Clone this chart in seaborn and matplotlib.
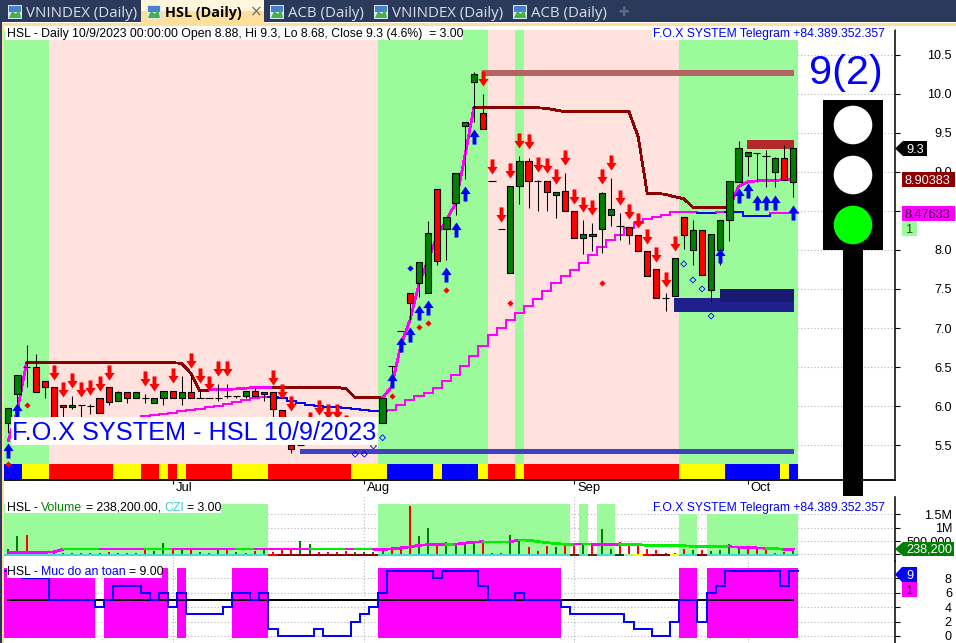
import numpy as np
import pandas as pd
import matplotlib
matplotlib.use("Agg")
import matplotlib.pyplot as plt
import seaborn as sns
from matplotlib.patches import Rectangle, Circle, Polygon
from matplotlib.path import Path
from matplotlib.transforms import ScaledTranslation

# ---------- data ----------
opens = [5.79,6.15,6.50,6.50,6.325,6.24,6.02,5.99,6.02,6.00,6.10,6.24,6.06,6.18,6.10,6.10,6.035,6.10,6.19,6.10,
         6.18,6.11,6.10,6.11,6.13,6.13,6.13,6.19,6.155,6.18,5.945,5.50,5.50,5.62,5.60,5.62,5.66,5.64,5.70,5.72,
         5.74,5.78,6.51,6.965,7.443,7.57,7.443,8.775,8.263,8.596,9.59,10.145,9.748,8.877,8.263,7.70,8.813,9.134,8.877,8.877,
         8.70,8.75,8.493,8.148,8.199,8.263,8.442,8.306,8.297,8.186,7.98,7.75,7.38,7.414,8.417,7.994,8.25,7.49,7.994,8.378,
         8.873,9.198,9.24,9.206,8.993,9.172,8.873]
closes = [5.98,6.40,6.50,6.185,6.24,5.69,5.99,6.02,6.02,6.00,5.91,6.05,6.18,6.10,6.18,6.10,6.10,6.19,6.10,6.18,
          6.11,6.11,6.10,6.11,6.13,6.13,6.19,6.13,6.18,5.96,5.84,5.45,5.50,5.62,5.60,5.62,5.66,5.64,5.70,5.72,
          5.74,6.10,6.51,6.965,7.324,7.84,8.21,7.86,8.416,8.99,9.633,10.247,9.543,8.877,8.263,8.813,9.134,8.877,8.877,8.737,
          8.737,8.493,8.148,8.199,8.173,8.724,8.53,8.306,8.186,7.98,7.66,7.38,7.38,7.892,8.195,8.25,7.683,8.199,8.38,8.878,
          9.30,9.249,9.24,9.206,9.172,8.89,9.30]
highs = [5.98,6.40,6.78,6.67,6.325,6.24,6.02,6.13,6.02,6.03,6.10,6.24,6.19,6.18,6.18,6.155,6.10,6.19,6.19,6.385,
         6.41,6.21,6.10,6.28,6.28,6.13,6.19,6.24,6.18,6.18,5.945,5.50,5.50,5.62,5.60,5.62,5.66,5.64,5.70,5.72,
         5.74,6.10,6.51,6.965,7.443,7.84,8.365,8.775,8.416,8.99,9.633,10.28,9.996,8.877,8.263,8.813,9.2,9.172,8.89,8.877,
         8.737,8.98,8.493,8.38,8.34,8.74,8.92,8.47,8.297,8.186,7.98,7.75,7.443,7.892,8.417,8.38,8.25,8.199,8.38,8.878,
         9.394,9.249,9.245,9.279,9.185,9.343,9.30]
lows = [5.65,6.05,6.25,6.185,6.11,5.69,5.865,5.96,5.865,5.90,5.91,6.02,6.06,6.04,6.10,6.035,6.035,6.015,6.10,6.02,
        6.11,6.10,6.10,6.065,6.11,6.11,6.10,6.13,6.06,5.84,5.75,5.405,5.50,5.62,5.60,5.62,5.66,5.64,5.70,5.72,
        5.74,5.78,6.42,6.965,7.10,7.40,7.443,7.81,7.87,8.446,8.91,9.64,9.543,8.877,8.263,7.70,8.587,8.54,8.50,8.50,
        8.41,8.493,8.148,7.95,7.99,7.96,8.30,8.126,8.075,7.98,7.66,7.38,7.22,7.414,8.016,7.806,7.683,7.345,7.806,8.118,
        8.873,8.95,8.87,8.81,8.81,8.89,8.673]

trail = ([5.557,5.95]+[6.556]*17+[6.547,6.42,6.193]+[6.206,6.21,6.215,6.22,6.23,6.238,6.24]+[6.24]*8+[6.223]+[6.107]*4
         +[6.25,6.78,7.10,7.57,7.87,8.19,8.38,8.596,9.19,9.82]+[9.82]*7+[9.812,9.79]+[9.77]*8
         +[9.449,8.724,8.724,8.711,8.68,8.656]+[8.545]*5+[8.81,8.873,8.883,8.89,8.89,8.90,8.90])
trail_col = "mm"+"r"*20+"m"*7+"r"*12+"m"*10+"r"*28+"m"*8
slow_idx = list(range(15,87))
slow = [5.873,5.88,5.90,5.916,5.933,5.95,5.967,5.984,6.0,6.027,6.05,6.078,6.10,6.116,6.116,6.11,6.07,6.044,6.018,6.005,5.99,5.984,5.97,5.958,5.95,5.94,5.937,
        5.95,6.014,6.08,6.13,6.168,6.232,6.32,6.40,6.513,6.64,6.77,6.91,6.995,7.10,7.187,7.28,7.366,7.48,7.58,7.665,7.742,7.836,7.934,8.04,8.126,8.19,8.276,8.34,
        8.39,8.425,8.447,8.49,8.49,8.49,8.477,8.477,8.49,8.49,8.487,8.434,8.434,8.434,8.477,8.477,8.477]
slow_col = "m"*14+"b"*13+"m"*34+"b"*2+"m"+"b"*5+"m"*3

bull_idx = [0,1,42,43,44,45,46,48,49,50,51,78,80,81,82,83,84,86]
bull_tip = [5.53,6.04,6.42,6.89,7.008,7.30,7.358,7.776,8.352,8.818,9.543,8.02,8.788,8.852,8.703,8.703,8.703,8.575]
bear_idx = [5,6,7,8,9,10,11,15,16,18,20,21,22,23,24,29,30,31,33,34,35,36,37,52,53,54,55,56,57,58,59,60,61,62,63,64,65,66,67,68,69,70,71,72,73]
bear_tip = [6.334,6.112,6.236,6.12,6.142,6.193,6.334,6.261,6.193,6.291,6.492,6.291,6.193,6.39,6.39,6.27,6.086,5.937,5.736,5.886,5.83,5.83,5.69,
            10.098,8.971,8.361,8.924,9.308,9.287,9.0,8.98,8.843,9.09,8.587,8.489,8.446,8.843,9.023,8.574,8.395,8.284,8.075,7.849,7.529,7.99]
red_dia_idx = [0,2,42,45,46,48,55,65]
red_dia_val = [5.26,6.02,6.13,7.017,7.07,7.486,7.324,7.58]
blue_dia_idx = [44]
blue_dia_val = [7.77]
open_dia_idx = [38,39,40,41,74,75,76,77]
open_dia_val = [5.385,5.385,5.49,5.595,7.82,7.614,7.50,7.153]

band_edges = [-0.5,4.5,40.5,52.5,55.5,56.5,73.5,86.5]
band_kinds = "gpgpgpg"
strip_edges = [-0.5,1.5,4.5,11.5,14.5,16.5,17.5,18.5,19.5,24.5,28.5,37.5,41.5,46.5,47.5,51.5,52.5,55.5,56.5,73.5,78.5,84.5,85.5,86.5]
strip_kinds = ["b","y","r","y","r","y","r","y","r","y","r","y","b","y","b","y","r","y","r","y","b","y","b"]

rect_x0 = [51.9,80.9,72.9,78.0,31.95]
rect_x1 = [86.1,86.1,86.1,86.1,86.1]
rect_lo = [10.23,9.29,7.20,7.33,5.385]
rect_hi = [10.30,9.41,7.39,7.50,5.45]
rect_col = ["#B46464","#B22A2A","#20208C","#191970","#4040C0"]

volume = [.20,.69,.72,.10,.08,.10,.05,.05,.04,.06,.04,.10,.05,.04,.05,.15,.12,.42,.20,.20,
          .16,.08,.05,.22,.19,.08,.05,.12,.20,.08,.16,.20,.50,.40,.10,.08,.10,.12,.08,.08,
          .10,.20,.28,.20,1.81,.69,.97,.35,.47,.44,.44,.50,.44,.05,.05,.72,.51,.28,.12,.31,
          .28,.39,.42,.35,.40,.95,.20,.46,.35,.38,.20,.16,.04,.04,.20,.16,.16,.12,.16,.38,
          .29,.28,.20,.16,.04,.10,.23]
vol_col = "ggrrrrrgrr"+"rrgrgrggrg"+"rgggrggrgr"+"rrggrrrrgg"+"ggrrrggrgg"+"ggrggggrrr"+"grrgrggrrr"+"rrggrgrggg"+"grrrgrg"
vol_ma = ([.08]*5+[.09]+[.19]*36+[.20,.24,.28,.34,.36,.37,.37,.38,.42,.46,.47,.47,.47,.47,.54,.53,.48,.44,.40]
          +[.38,.37,.37,.37,.37,.36,.36,.37,.36,.34,.33,.33,.33,.32,.30,.29,.29,.28,.28,.27,.26,.24,.23,.21,.19,.18])
vol_ma_col = "mmmmmm"+"gggg"+"mmmmm"+"ggg"+"mmmmmmm"+"gg"+"mmmmmm"+"gggg"+"m"+"gg"+"mmmmmmmm"+"g"+"mmm"+"ggg"+"m"+"gggggg"+"m"+"g"+"mmm"+"g"*12+"mmmm"+"gg"+"m"+"g"
vband_edges = [-0.5,28.5,40.5,61.5,62.5,63.5,64.5,66.5,73.5,75.5,76.5,86.5]
vband_on = [1,0,1,0,1,0,1,0,1,0,1]
vstrip_edges = [-0.5,28.5,29.5,40.5,61.5,62.5,63.5,64.5,66.5,67.5,68.5,69.5,70.5,72.5,73.5,75.5,76.5,86.5]
vstrip_col = ["#40E0D0","#FF0000","#8B0000","#40E0D0","#5A2A00","#40E0D0","#5A2A00","#40E0D0","#005000","#98FB98","#FFFF00","#FF0000","#8B0000","#FFFF00","#40E0D0","#8B0000","#40E0D0"]

safety = [9,9,8,8,8,5,5,5,5,5,4,5,7,7,7,6,5,6,4,6,3,3,3,3,4,6,6,5,6,1,0,0,0,0,1,0,0,0,2,3,4,6,9,9,9,9,9,8,9,9,9,9,7,5,5,5,6,5,5,5,5,4,
          3,3,3,3,3,3,2,1,1,0,0,2,5,5,2,6,7,9,9,9,9,9,9,7,9]
safety_mid = [5]*87
sband_edges = [-0.5,9.5,10.5,17.5,18.5,19.5,24.5,28.5,40.5,60.5,73.5,75.5,76.5,86.5]
sband_on = [1,0,1,0,1,0,1,0,1,0,1,0,1]

price_ticks = [5.5,6.0,6.5,7.0,7.5,8.0,8.5,9.0,9.5,10.0,10.5]
price_lab = ["5.5","6.0","6.5","7.0","7.5","8.0","","9.0","9.5","10.0","10.5"]
date_idx = [18,39,62,81]
date_lab = ["Jul","Aug","Sep","Oct"]
vol_ticks = [0,.5,1,1.5]
vol_lab = ["","500,000","1M","1.5M"]
safe_ticks = [0,2,4,6,8]
tabs = [("VNINDEX (Daily)",26,8),("HSL (Daily)",165,147),("ACB (Daily)",288,270),("VNINDEX (Daily)",392,374),("ACB (Daily)",531,513)]

# ---------- geometry / style ----------
W, H = 956, 643
PXI = 9.128
X0 = (4-8.3)/PXI
X1 = (895-8.3)/PXI
PINK, GREEN, RED, DGREEN, MAG, DRED = "#FFE1DE", "#9BFB9B", "#FF0000", "#008000", "#FF00FF", "#8B0000"
LW = 1.3
TS = 8.8
sns.set_theme(style="white", rc={"axes.facecolor":"white","figure.facecolor":"white"})
FONT = "Liberation Sans"
plt.rcParams["font.family"] = [FONT, "DejaVu Sans"]
fig = plt.figure(figsize=(W/100, H/100), dpi=100)

def pane(top, bot):
    a = fig.add_axes([4/W, 1-bot/H, (895-4)/W, (bot-top)/H])
    a.set_xlim(X0, X1)
    for s in ["top","left"]:
        a.spines[s].set_visible(False)
    a.spines["right"].set_color("black"); a.spines["bottom"].set_color("black")
    a.spines["right"].set_linewidth(1.1); a.spines["bottom"].set_linewidth(1.3)
    a.yaxis.tick_right()
    a.tick_params(axis="y", length=3.6, width=0.8, color="black", labelsize=9.1, pad=37.4, labelcolor="black")
    a.set_axisbelow(True)
    a.grid(True, ls=(0,(1,2)), color="#B4B4B4", lw=0.8)
    return a

ax = pane(30, 480)
av = pane(497, 561)
ai = pane(561, 643)

COLS = {"r":DRED,"m":MAG,"b":"#0000FF","g":"#00EE00"}
def coloured(a, xs, ys, kinds, lw, z):
    xs, ys = np.asarray(xs,float), np.asarray(ys,float)
    s = 0
    while s < len(xs):
        e = s
        while e+1 < len(xs) and kinds[e+1] == kinds[s]:
            e += 1
        stop = min(e+2, len(xs))
        sns.lineplot(x=xs[s:stop], y=ys[s:stop], ax=a, color=COLS[kinds[s]], lw=lw, zorder=z,
                     estimator=None, sort=False, errorbar=None, legend=False, antialiased=False)
        s = e+1

def stairs(v, idx=None):
    idx = np.arange(len(v)) if idx is None else np.asarray(idx)
    xs = np.append(idx-0.5, idx[-1]+0.5)
    e = np.repeat(xs, 2)[1:-1]
    y = np.repeat(v, 2)
    return e, y

# ---------- main pane ----------
for k,(a,b) in zip(band_kinds, zip(band_edges[:-1], band_edges[1:])):
    ax.axvspan(a, b, ymin=0, ymax=1, color=GREEN if k=="g" else PINK, lw=0, zorder=1)
SK = {"b":"#0000FF","y":"#FFFF00","r":"#FF0000"}
for k,(a,b) in zip(strip_kinds, zip(strip_edges[:-1], strip_edges[1:])):
    ax.bar((a+b)/2, 0.192, width=b-a, bottom=5.067, color=SK[k], lw=0, zorder=2)
for x0,x1,lo,hi,c in zip(rect_x0,rect_x1,rect_lo,rect_hi,rect_col):
    ax.bar((x0+x1)/2, hi-lo, width=x1-x0, bottom=lo, color=c, lw=0, zorder=3)

sx, sy = stairs(slow, slow_idx)
kinds2 = np.repeat(list(slow_col), 2)
coloured(ax, sx, sy, kinds2, LW, 4)
coloured(ax, np.arange(87), trail, trail_col, LW, 4.1)

idx = np.arange(87)
df = pd.DataFrame({"i":idx,"o":opens,"c":closes,"h":highs,"l":lows})
ax.vlines(df.i, df.l, df.h, color="black", lw=0.75, zorder=5)
up = df[df.c>df.o]; dn = df[df.c<df.o]; dj = df[df.c==df.o]
ax.bar(up.i, up.c-up.o, bottom=up.o, width=0.68, color=DGREEN, edgecolor="black", lw=0.8, zorder=6)
ax.bar(dn.i, dn.o-dn.c, bottom=dn.c, width=0.68, color=RED, edgecolor="black", lw=0.8, zorder=6)
ax.hlines(dj.o, dj.i-0.4, dj.i+0.4, color="black", lw=0.8, zorder=6)

arrow_dn = Path([(0,0),(-.34,.5),(-.13,.5),(-.13,1),(.13,1),(.13,.5),(.34,.5),(0,0)], closed=True)
arrow_up = Path([(0,0),(-.34,-.5),(-.13,-.5),(-.13,-1),(.13,-1),(.13,-.5),(.34,-.5),(0,0)], closed=True)
sns.scatterplot(x=bear_idx, y=bear_tip, ax=ax, marker=arrow_dn, s=470, color=RED, linewidth=0, zorder=7, legend=False)
sns.scatterplot(x=bull_idx, y=bull_tip, ax=ax, marker=arrow_up, s=470, color="#0000FF", linewidth=0, zorder=7, legend=False)
sns.scatterplot(x=red_dia_idx, y=red_dia_val, ax=ax, marker="D", s=10, color=RED, linewidth=0, zorder=7, legend=False)
sns.scatterplot(x=blue_dia_idx, y=blue_dia_val, ax=ax, marker="D", s=10, color="#0000FF", linewidth=0, zorder=7, legend=False)
ax.scatter(open_dia_idx, open_dia_val, marker="D", s=9, facecolor="none", edgecolor="#0000FF", linewidth=0.6, zorder=7)
ax.set_xlim(X0, X1)
ax.set_ylim(7-(480-328)/78.1, 7+(328-30)/78.1)
ax.set_yticks(price_ticks)
ax.set_yticklabels(price_lab, ha="right")
ax.set_xticks(date_idx)
ax.set_xticklabels(date_lab, ha="left", fontsize=9.4, color="black")
ax.tick_params(axis="x", length=3, width=0.8, color="black", pad=-1.5, bottom=True)
offs = ScaledTranslation(3/100, 0, fig.dpi_scale_trans)
for t in ax.get_xticklabels():
    t.set_transform(t.get_transform()+offs)

# ---------- volume pane ----------
for on,(a,b) in zip(vband_on, zip(vband_edges[:-1], vband_edges[1:])):
    if on:
        av.bar((a+b)/2, 1.89+0.064, width=b-a, bottom=-0.064, color=GREEN, lw=0, zorder=1)
for c,(a,b) in zip(vstrip_col, zip(vstrip_edges[:-1], vstrip_edges[1:])):
    av.bar((a+b)/2, 0.094, width=b-a, bottom=-0.064, color=c, lw=0, zorder=2)
vdf = pd.DataFrame({"i":idx,"v":volume,"k":list(vol_col)})
for k,c in (("g",DGREEN),("r",RED)):
    d = vdf[vdf.k==k]
    av.vlines(d.i, 0, d.v, color=c, lw=1.2, zorder=3, antialiased=False)
coloured(av, idx, vol_ma, vol_ma_col, LW, 4)
av.set_xlim(X0, X1)
av.set_ylim((554.3-561)/26.6, (554.3-497)/26.6)
av.set_yticks(vol_ticks)
av.set_yticklabels(vol_lab, ha="right")
av.set_xticks(date_idx); av.set_xticklabels([]); av.tick_params(axis="x", length=0)
av.spines["bottom"].set_visible(False)

# ---------- safety pane ----------
for on,(a,b) in zip(sband_on, zip(sband_edges[:-1], sband_edges[1:])):
    if on:
        ai.bar((a+b)/2, 9.73, width=b-a, bottom=-0.24, color=MAG, lw=0, zorder=1)
sns.lineplot(x=idx, y=safety_mid, ax=ai, color="black", lw=LW, zorder=3, estimator=None, errorbar=None, legend=False, antialiased=False)
ex, ey = stairs(safety)
sns.lineplot(x=ex, y=ey, ax=ai, color="#0000FF", lw=LW, zorder=4, estimator=None, sort=False, errorbar=None, legend=False, antialiased=False)
ai.set_xlim(X0, X1)
ai.set_ylim((636-643)/7.2, (636-561)/7.2)
ai.set_yticks(safe_ticks)
ai.set_yticklabels([str(t) for t in safe_ticks], ha="right")
ai.set_xticks(date_idx); ai.set_xticklabels([]); ai.tick_params(axis="x", length=0)
ai.spines["bottom"].set_visible(False)
for a in (ax, av, ai):
    a.set_xlabel(""); a.set_ylabel("")

# ---------- overlay in pixel units: chrome, labels, traffic light ----------
ov = fig.add_axes([0,0,1,1], zorder=20)
ov.set_xlim(0, W); ov.set_ylim(H, 0); ov.axis("off"); ov.patch.set_alpha(0)
def rect(x0,y0,x1,y1,c,z=1):
    ov.add_patch(Rectangle((x0,y0),x1-x0,y1-y0,fc=c,ec="none",lw=0,zorder=z))
def txt(x,y,s,c="black",fs=TS,ha="left",fam=FONT,**k):
    return ov.text(x,y,s,color=c,fontsize=fs,ha=ha,va="baseline",family=fam,zorder=5,**k)

rect(0,0,W,22,"#2B3A5A")
rect(0,22,2,H,"#2B3A5A")
rect(2,22.5,W,26,"#FBDF9A")
rect(2,22.5,4,H,"#FBDF9A",1)
rect(4,26,895,30,"white")
rect(141,0,264,11,"#FFF6DC",2); rect(141,11,264,23,"#FFE09A",2)
fig.canvas.draw()
for i,(s,tx,ix) in enumerate(tabs):
    act = i==1
    rect(ix,5,ix+14,19,"#D8E8F4",3)
    rect(ix+1,6,ix+13,12,"#4A80D0",3)
    ov.add_patch(Polygon([(ix+1,18),(ix+4,11),(ix+8,14),(ix+11,9),(ix+13,18)],fc="#46B048",ec="none",zorder=4))
    txt(tx,17,s,"black" if act else "#D9DFEA",10.4 if act else 10.85,fam="Open Sans",weight="bold" if act else "normal")
txt(249.5,16.5,"\u00d7","#707070",11,fam="DejaVu Sans")
txt(624,16,"\u271a","#5A6A85",9,ha="center",fam="DejaVu Sans")

def pieces(x,y,parts,gap=3.4):
    rnd = fig.canvas.get_renderer()
    for s,c in parts:
        t = txt(x,y,s,c)
        x = t.get_window_extent(rnd).x1 + gap
    return x

rect(5,26,463,40,"white",2)
txt(7,37,"HSL - Daily 10/9/2023 00:00:00 Open 8.88, Hi 9.3, Lo 8.68, Close 9.3 (4.6%)  = 3.00")
rect(652,26,886,40,"white",2)
txt(653,37,"F.O.X SYSTEM Telegram +84.389.352.357","#0000FF",8.75)
rect(5,498,221,513,"white",2)
pieces(7,511,[("HSL -","black"),("Volume","#008000"),("= 238,200.00,","black"),("CZI","#40D0D0"),("= 3.00","black")])
rect(652,498,886,514,"white",2)
txt(653,511,"F.O.X SYSTEM Telegram +84.389.352.357","#0000FF",8.75)
rect(7,563,162,578,"white",2)
pieces(7,575,[("HSL -","black"),("Muc do an toan","#0000FF"),("= 9.00","black")])

rect(11,417,378,445,"white",2)
txt(12,440,"F.O.X SYSTEM - HSL 10/9/2023","#0000FF",18.2)
txt(809,83.5,"9(2)","#0000FF",29.8)

# traffic light
rect(823,100,883,250,"black",3)
rect(843,250,863,496,"black",3)
for cy,c in ((125,"white"),(175,"white"),(225,"#00FF00")):
    ov.add_patch(Circle((853,cy),19.3,fc=c,ec="none",zorder=4))

# price tags
ov.add_patch(Polygon([(895,148.5),(903,141),(927,141),(927,156),(903,156)],fc="black",ec="none",zorder=3))
txt(906,153,"9.3","white",9.2)
rect(902,172,955,187,DRED,3); txt(905,184,"8.90383","white",9.2)
rect(902,206,955,221,MAG,3); txt(905,218,"8.47633","#400040",9.2)
rect(902,221,917,236,GREEN,3); txt(906,233,"1","#205020",9.2)
ov.add_patch(Polygon([(895,549),(903,542),(954,542),(954,556),(903,556)],fc=DGREEN,ec="none",zorder=3))
txt(906,553,"238,200","white",9.2)
ov.add_patch(Polygon([(895,574.5),(902,567),(917,567),(917,582),(902,582)],fc="#0000FF",ec="none",zorder=3))
txt(906,579,"9","white",9.2)
rect(902,582,917,597,MAG,3); txt(906,594,"1","#400040",9.2)

fig.savefig("out.png", dpi=100)
